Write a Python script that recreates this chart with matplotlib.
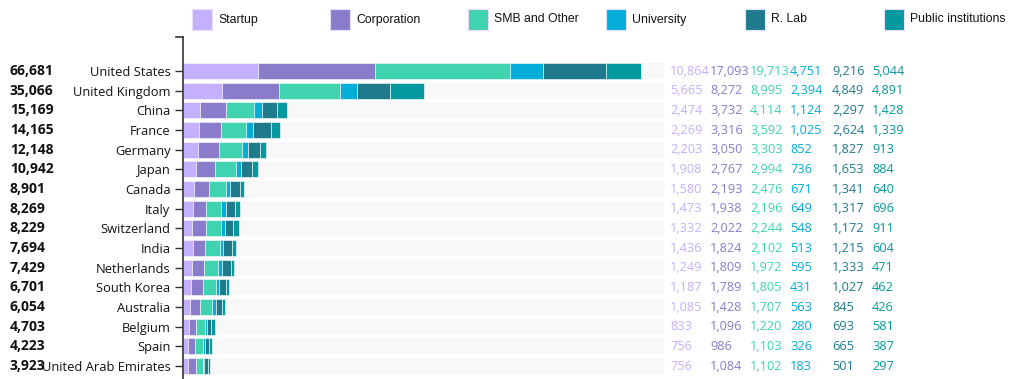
import matplotlib.pyplot as plt
from matplotlib.patches import Rectangle
from matplotlib.transforms import blended_transform_factory

# Data
countries = [
    "United States", "United Kingdom", "China", "France", "Germany", "Japan",
    "Canada", "Italy", "Switzerland", "India", "Netherlands", "South Korea",
    "Australia", "Belgium", "Spain", "United Arab Emirates",
]
categories = ["Startup", "Corporation", "SMB and Other", "University",
              "R. Lab", "Public institutions"]

startup = [10864, 5665, 2474, 2269, 2203, 1908, 1580, 1473, 1332, 1436, 1249, 1187, 1085, 833, 756, 756]
corporation = [17093, 8272, 3732, 3316, 3050, 2767, 2193, 1938, 2022, 1824, 1809, 1789, 1428, 1096, 986, 1084]
smb = [19713, 8995, 4114, 3592, 3303, 2994, 2476, 2196, 2244, 2102, 1972, 1805, 1707, 1220, 1103, 1102]
university = [4751, 2394, 1124, 1025, 852, 736, 671, 649, 548, 513, 595, 431, 563, 280, 326, 183]
rlab = [9216, 4849, 2297, 2624, 1827, 1653, 1341, 1317, 1172, 1215, 1333, 1027, 845, 693, 665, 501]
public = [5044, 4891, 1428, 1339, 913, 884, 640, 696, 911, 604, 471, 462, 426, 581, 387, 297]

series = [startup, corporation, smb, university, rlab, public]
colors = ["#c4b0fc", "#8b7bcb", "#3fd3b0", "#04acd8", "#1f7b8c", "#05989e"]

totals = [sum(v) for v in zip(*series)]
n = len(countries)

plt.rcParams["font.family"] = ["Open Sans", "DejaVu Sans"]

fig = plt.figure(figsize=(10.24, 3.79), dpi=100)
ax = fig.add_axes([183 / 1024, 0, 481 / 1024, 1 - 37 / 379])

xmax = 70100
ys = list(range(n))
bar_h = 0.8

# background bars
ax.barh(ys, [xmax] * n, height=bar_h, color="#f8f8f8", zorder=0)

left = [0] * n
for vals, col, name in zip(series, colors, categories):
    ax.barh(ys, vals, left=left, height=bar_h, color=col, label=name,
            edgecolor="white", linewidth=0.4, zorder=2)
    left = [a + b for a, b in zip(left, vals)]

ax.set_xlim(0, xmax)
ax.set_ylim(15.66, -1.73)
ax.set_yticks(ys)
ax.set_yticklabels(countries, fontsize=9.3, color="#111111")
ax.tick_params(axis="y", length=6, width=1, color="#333333", pad=3)
ax.set_xticks([])
for s in ["top", "right", "bottom"]:
    ax.spines[s].set_visible(False)
ax.spines["left"].set_color("#333333")
ax.spines["left"].set_linewidth(1.2)

# small cap at top of axis
ax.plot([-0.0145, 0], [-1.73, -1.73], transform=blended_transform_factory(ax.transAxes, ax.transData),
        color="#333333", lw=1.2, clip_on=False)

# left totals
tr = blended_transform_factory(fig.transFigure, ax.transData)
for i, t in enumerate(totals):
    fig.text(10 / 1024, 0, f"{t:,}", transform=tr, fontsize=10, fontweight="bold",
             va="center", ha="left", color="#111111").set_y(i)

# right value columns
col_x = [670, 710, 750, 790, 832, 872]
for vals, col, cx in zip(series, colors, col_x):
    for i, v in enumerate(vals):
        ax.text(cx / 1024, i, f"{v:,}", transform=tr, fontsize=9.2, color=col,
                va="center", ha="left")

# legend
leg_x = [192, 330, 468, 606, 745, 884]
for name, col, lx in zip(categories, colors, leg_x):
    fig.patches.append(Rectangle((lx / 1024, 1 - 30 / 379), 20 / 1024, 21 / 379,
                                 transform=fig.transFigure, facecolor=col,
                                 edgecolor="#e8e0ff", linewidth=0.8))
    fig.text((lx + 26) / 1024, 1 - 19.5 / 379, name, fontsize=8.8,
             family=["Liberation Sans", "DejaVu Sans"], va="center", ha="left", color="#111111")

fig.savefig("out.png", dpi=100)
